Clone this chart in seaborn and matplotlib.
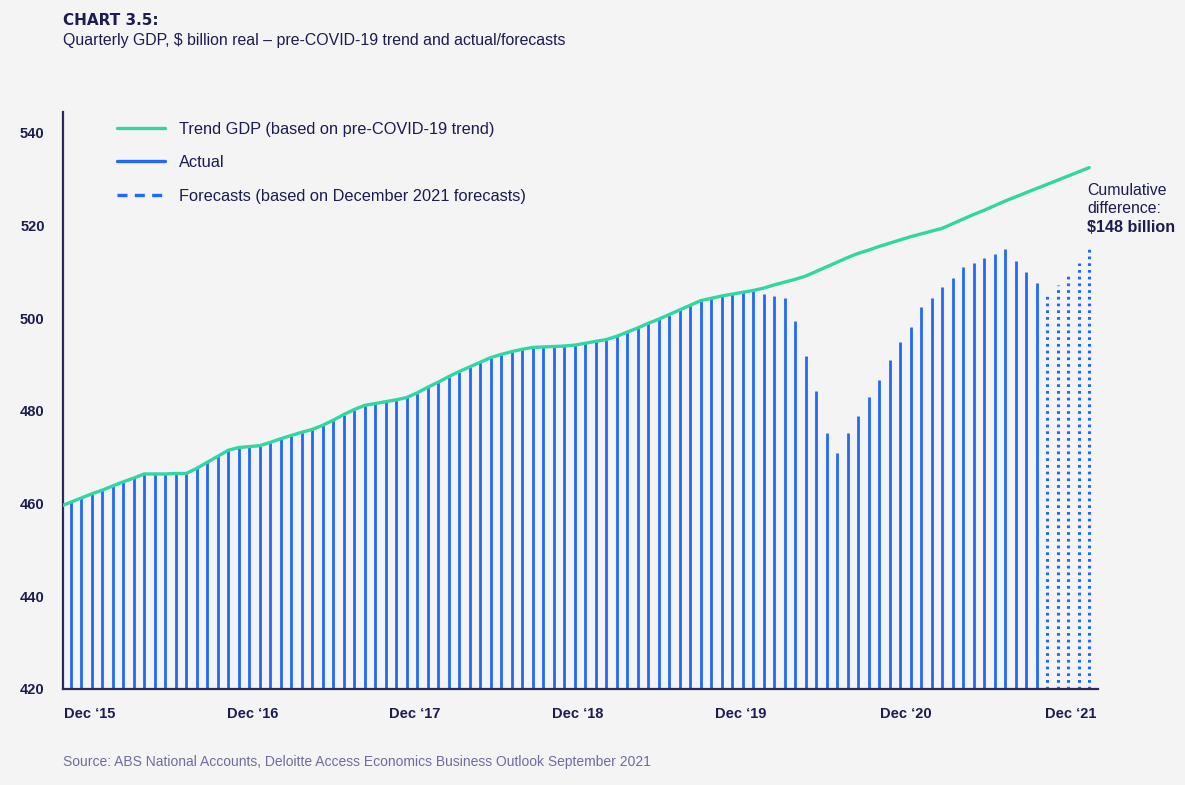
import numpy as np
import matplotlib
matplotlib.use("Agg")
import matplotlib.pyplot as plt
from matplotlib.lines import Line2D
import seaborn as sns

# ---------------- data ----------------
trend_gdp = [459.4,
    460.3, 461.2, 462.1, 462.9, 463.8, 464.7, 465.5, 466.4, 466.4, 466.4,
    466.5, 466.5, 467.6, 468.9, 470.2, 471.5, 472.1, 472.3, 472.5, 473.2,
    474.0, 474.7, 475.4, 476.0, 476.9, 478.0, 479.2, 480.3, 481.2, 481.6,
    482.0, 482.4, 482.9, 483.9, 485.1, 486.2, 487.4, 488.5, 489.5, 490.5,
    491.5, 492.2, 492.8, 493.3, 493.7, 493.8, 493.9, 494.0, 494.2, 494.6,
    495.0, 495.4, 496.1, 497.0, 497.9, 498.9, 499.8, 500.8, 501.8, 502.8,
    503.8, 504.3, 504.8, 505.2, 505.6, 506.0, 506.5, 507.2, 507.8, 508.4,
    509.1, 510.1, 511.1, 512.1, 513.1, 514.0, 514.7, 515.5, 516.2, 516.9,
    517.6, 518.2, 518.8, 519.4, 520.4, 521.4, 522.4, 523.3, 524.3, 525.3,
    526.2, 527.1, 528.0, 528.9, 529.8, 530.7, 531.6, 532.5]

actual_gdp = [
    460.3, 461.2, 462.1, 462.9, 463.8, 464.7, 465.5, 466.4, 466.4, 466.4,
    466.5, 466.5, 467.6, 468.9, 470.2, 471.5, 472.1, 472.3, 472.5, 473.2,
    474.0, 474.7, 475.4, 476.0, 476.9, 478.0, 479.2, 480.3, 481.2, 481.6,
    482.0, 482.4, 482.9, 483.9, 485.1, 486.2, 487.4, 488.5, 489.5, 490.5,
    491.5, 492.2, 492.8, 493.3, 493.7, 493.8, 493.9, 494.0, 494.2, 494.6,
    495.0, 495.4, 496.1, 497.0, 497.9, 498.9, 499.8, 500.8, 501.8, 502.8,
    503.8, 504.3, 504.8, 505.2, 505.6, 506.0,
    505.2, 504.9, 504.4, 499.5, 491.9, 484.2, 475.2, 471.0, 475.2, 479.0,
    482.9, 486.7, 491.0, 494.8, 498.2, 502.5, 504.4, 506.8, 508.7, 511.0,
    512.0, 512.9, 513.9, 514.9, 512.4, 510.0, 507.7]

forecast_gdp = [505.4, 507.2, 509.7, 512.0, 515.3]

tick_labels = ["Dec \u201815", "Dec \u201816", "Dec \u201817", "Dec \u201818",
               "Dec \u201819", "Dec \u201820", "Dec \u201821"]
tick_positions = [1.84, 17.3, 32.8, 48.3, 63.8, 79.5, 95.2]
y_ticks = [420, 440, 460, 480, 500, 520, 540]

# period indices
x_trend = np.arange(-1, len(trend_gdp) - 1)
x_actual = np.arange(len(actual_gdp))
x_fc = np.arange(len(actual_gdp), len(actual_gdp) + len(forecast_gdp))

# ---------------- style ----------------
BG = "#f4f4f4"
NAVY = "#1c1b52"
BLUE = "#2269f8"
GREEN = "#31d7a3"
SRC = "#6e6ca0"

sns.set_theme(style="white")
plt.rcParams["font.family"] = ["Liberation Sans", "DejaVu Sans"]

W, H = 1185, 785
fig = plt.figure(figsize=(11.85, 7.85), dpi=100, facecolor=BG)
ax = fig.add_axes([0.0529, 0.1223, 0.8737, 0.735])
ax.set_facecolor(BG)

ax.vlines(x_actual, 420, actual_gdp, color=BLUE, lw=2.0, zorder=2)
ax.vlines(x_fc, 420, forecast_gdp, color=BLUE, lw=2.2,
          linestyles=[(0, (0.9, 1.3))], zorder=2)
sns.lineplot(x=x_trend, y=trend_gdp, color=GREEN, lw=2.4, ax=ax, zorder=3)

ax.set_xlim(-0.76, 97.84)
ax.set_ylim(420, 544.5)
ax.set_yticks(y_ticks)
ax.set_yticklabels([str(v) for v in y_ticks])
ax.set_xticks(tick_positions)
ax.set_xticklabels(tick_labels)
ax.tick_params(axis="both", length=0, labelsize=10.5, labelcolor=NAVY, pad=13)
for lab in ax.get_xticklabels() + ax.get_yticklabels():
    lab.set_fontweight("bold")
ax.set_xlabel("")
ax.set_ylabel("")

for s in ["top", "right"]:
    ax.spines[s].set_visible(False)
for s in ["left", "bottom"]:
    ax.spines[s].set_color("#2b2a5e")
    ax.spines[s].set_linewidth(1.6)

handles = [
    Line2D([0], [0], color=GREEN, lw=2.4),
    Line2D([0], [0], color=BLUE, lw=2.4),
    Line2D([0], [0], color=BLUE, lw=2.4, linestyle=(0, (3, 2.2))),
]
labels = ["Trend GDP (based on pre-COVID-19 trend)", "Actual",
          "Forecasts (based on December 2021 forecasts)"]
leg = ax.legend(handles, labels, loc="upper left",
                bbox_to_anchor=(0.052, 0.983), frameon=False,
                fontsize=11.8, handlelength=2.95, handletextpad=0.85,
                labelspacing=1.12, borderaxespad=0.0, borderpad=0.0)
for t in leg.get_texts():
    t.set_color(NAVY)

# titles
fig.text(63 / W, 1 - 25 / H, "CHART 3.5:", fontsize=11,
         fontweight="bold", color=NAVY, va="baseline", ha="left",
         family=["DejaVu Sans"])
fig.text(63 / W, 1 - 45 / H,
         "Quarterly GDP, $ billion real \u2013 pre-COVID-19 trend and actual/forecasts",
         fontsize=11.4, color=NAVY, va="baseline", ha="left")

# annotation
fig.text(1087 / W, 1 - 195 / H, "Cumulative", fontsize=11.4,
         color=NAVY, va="baseline", ha="left")
fig.text(1087 / W, 1 - 213 / H, "difference:", fontsize=11.4,
         color=NAVY, va="baseline", ha="left")
fig.text(1087 / W, 1 - 232 / H, "$148 billion", fontsize=11.6,
         fontweight="bold", color=NAVY, va="baseline", ha="left")

# source
fig.text(63 / W, 1 - 766 / H,
         "Source: ABS National Accounts, Deloitte Access Economics Business Outlook September 2021",
         fontsize=10, color=SRC, va="baseline", ha="left")

fig.savefig("out.png", dpi=100, facecolor=BG)
